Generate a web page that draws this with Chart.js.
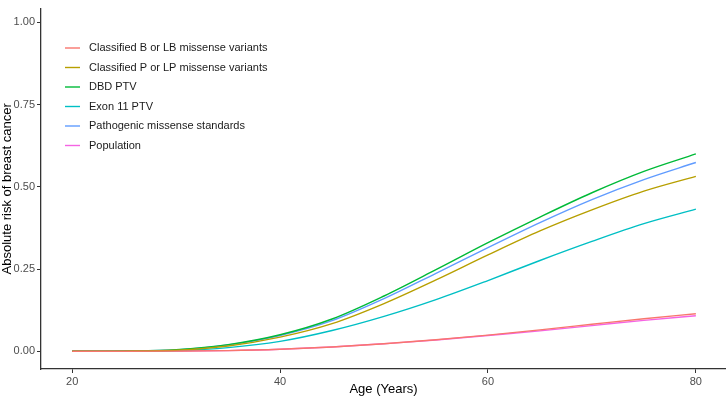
<!DOCTYPE html>
<html>
<head>
<meta charset="utf-8">
<script src="https://cdn.jsdelivr.net/npm/chart.js@4"></script>
<style>
  html, body { margin: 0; padding: 0; background: #fff; }
  #wrap { width: 726px; height: 399px; position: relative; }
</style>
</head>
<body>
<div id="wrap"><canvas id="riskChart" width="726" height="399"></canvas></div>
<script>
// age grid and absolute risk
const ages = [20, 25, 30, 35, 40, 45, 50, 55, 60, 65, 70, 75, 80];
const benignMissense = [0, 0, 0.0005, 0.002, 0.006, 0.013, 0.023, 0.035, 0.049, 0.065, 0.082, 0.099, 0.114];
const pathogenicMissense = [0, 0.0005, 0.003, 0.016, 0.043, 0.084, 0.145, 0.217, 0.293, 0.366, 0.430, 0.487, 0.532];
const dbdPtv = [0, 0.001, 0.005, 0.020, 0.050, 0.098, 0.168, 0.248, 0.330, 0.408, 0.482, 0.547, 0.600];
const exon11Ptv = [0, 0, 0.002, 0.011, 0.030, 0.063, 0.106, 0.157, 0.215, 0.276, 0.334, 0.388, 0.432];
const missenseStandards = [0, 0.001, 0.004, 0.019, 0.048, 0.093, 0.160, 0.237, 0.315, 0.391, 0.461, 0.522, 0.574];
const population = [0, 0, 0.0005, 0.002, 0.006, 0.013, 0.023, 0.034, 0.048, 0.062, 0.078, 0.094, 0.108];

const seriesNames = [
    'Classified B or LB missense variants',
    'Classified P or LP missense variants',
    'DBD PTV',
    'Exon 11 PTV',
    'Pathogenic missense standards',
    'Population'
];
const seriesValues = [benignMissense, pathogenicMissense, dbdPtv, exon11Ptv, missenseStandards, population];
const seriesColors = ['#F8766D', '#B79F00', '#00BA38', '#00BFC4', '#619CFF', '#F564E3'];

const yTicks = [0, 0.25, 0.5, 0.75, 1];
const xTicks = [20, 40, 60, 80];

const FONT = '"Liberation Sans", Arial, sans-serif';

function makeDataset(i) {
    return {
        label: seriesNames[i],
        data: ages.map((a, k) => ({ x: a, y: seriesValues[i][k] })),
        borderColor: seriesColors[i],
        borderWidth: 1.4,
        pointRadius: 0,
        fill: false,
        cubicInterpolationMode: 'monotone'
    };
}

// legend drawn inside the plot, ggplot style
const insideLegend = {
    id: 'insideLegend',
    afterDraw(chart) {
        const c = chart.ctx;
        c.save();
        c.font = '11px ' + FONT;
        c.textBaseline = 'middle';
        c.textAlign = 'left';
        chart.data.datasets.forEach((ds, i) => {
            const y = 48 + i * 19.5;
            c.strokeStyle = ds.borderColor;
            c.lineWidth = 1.4;
            c.beginPath();
            c.moveTo(65, y);
            c.lineTo(80, y);
            c.stroke();
            c.fillStyle = '#1a1a1a';
            c.fillText(ds.label, 89, y);
        });
        c.restore();
    }
};

const ctx = document.getElementById('riskChart').getContext('2d');
new Chart(ctx, {
    type: 'line',
    data: { datasets: seriesValues.map((v, i) => makeDataset(i)) },
    options: {
        responsive: false,
        animation: false,
        layout: { padding: { top: 5, right: 0, left: 0, bottom: 0 } },
        plugins: { legend: { display: false }, tooltip: { enabled: false } },
        scales: {
            x: {
                type: 'linear',
                min: 17.0,
                max: 82.9,
                afterBuildTicks: s => { s.ticks = xTicks.map(v => ({ value: v })); },
                afterFit: s => { s.height = 30; },
                ticks: { color: '#4d4d4d', font: { family: FONT, size: 11 }, padding: 2, maxRotation: 0 },
                grid: { drawOnChartArea: false, drawTicks: true, tickLength: 4, color: '#333333' },
                border: { display: true, color: '#333333', width: 1.3 },
                title: { display: true, text: 'Age (Years)', color: '#000', font: { family: FONT, size: 13 }, padding: { top: 0, bottom: 2 } }
            },
            y: {
                type: 'linear',
                min: -0.054,
                max: 1.042,
                afterBuildTicks: s => { s.ticks = yTicks.map(v => ({ value: v })); },
                afterFit: s => { s.width = 41; },
                ticks: { color: '#4d4d4d', font: { family: FONT, size: 11 }, padding: 2, callback: v => v.toFixed(2) },
                grid: { drawOnChartArea: false, drawTicks: true, tickLength: 4, color: '#333333' },
                border: { display: true, color: '#333333', width: 1.3 },
                title: { display: true, text: 'Absolute risk of breast cancer', color: '#000', font: { family: FONT, size: 13 }, padding: { top: 0, bottom: 0 } }
            }
        }
    },
    plugins: [insideLegend]
});
</script>
</body>
</html>
